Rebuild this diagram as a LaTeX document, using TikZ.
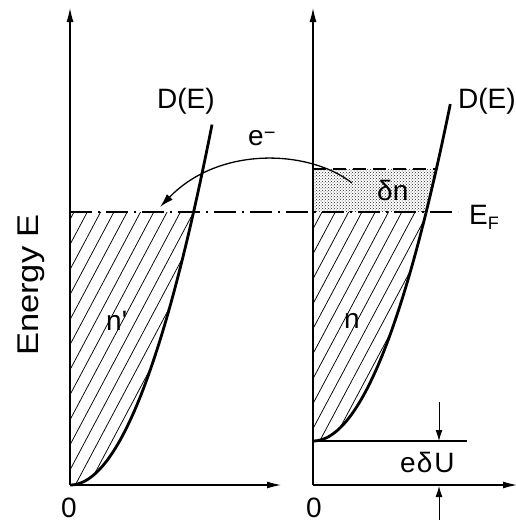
\documentclass[tikz,border=0pt]{standalone}
\usepackage{fontspec}
\setmainfont{Liberation Sans}
\usetikzlibrary{arrows.meta,patterns}
\begin{document}
\begin{tikzpicture}[x=1pt,y=-1pt,
  axis/.style={line width=1.1pt,-{Latex[length=14pt,width=7pt]}},
  dos/.style={line width=2.8pt},
  lbl/.style={font=\fontsize{28}{28}\selectfont, inner sep=0pt},
  hatchline/.style={line width=0.75pt},
  fermi/.style={line width=1.1pt,dash pattern=on 22pt off 6pt on 2pt off 6pt},
  dashedlvl/.style={line width=1.1pt,dash pattern=on 13pt off 7pt},
  smallarrow/.style={line width=0.9pt,-{Latex[length=11pt,width=7pt]}},
  elarrow/.style={line width=1.3pt,-{Latex[length=14pt,width=8pt]}}
]
\useasboundingbox (0,0) rectangle (515,522);

% coordinates
\coordinate (L0) at (70,485);
\coordinate (Ltop) at (70,8);
\coordinate (Lright) at (281,485);
\coordinate (R0) at (313,485);
\coordinate (Rtop) at (313,8);
\coordinate (Rright) at (517,485);
\coordinate (RB) at (313,441);
\coordinate (RBe) at (467,441);
\coordinate (FL) at (70,212);
\coordinate (FR) at (458,212);
\coordinate (DL) at (313,169);
\coordinate (DR) at (437,169);
\coordinate (Ua1) at (439,402);
\coordinate (Ua2) at (439,441);
\coordinate (Ub1) at (439,520);
\coordinate (Ub2) at (439,486);
\coordinate (Et) at (352,183);
\coordinate (Eh) at (160,207);

% hatching left
\begin{scope}
\clip (70,212) -- (70,485) -- plot[domain=0:123.6,samples=60] ({70+\x},{485-(\x/7.48)^2}) -- cycle;
\foreach \i in {-12,...,10} \draw[hatchline] ({75.3+\i*13.3},485) -- ++(145,-273);
\end{scope}

% hatching right
\begin{scope}
\clip (313,212) -- (313,441) -- plot[domain=0:113.2,samples=60] ({313+\x},{441-(\x/7.48)^2}) -- cycle;
\foreach \i in {-12,...,10} \draw[hatchline] ({322+\i*13.3-122},441) -- ++(122,-229);
\end{scope}

% dotted region
\fill[pattern=crosshatch dots, pattern color=black!85] (DL) -- (313,212) -- plot[domain=113.2:123.4,samples=10] ({313+\x},{441-(\x/7.48)^2}) -- cycle;

% axes
\draw[axis] (L0) -- (Ltop);
\draw[axis] (L0) -- (Lright);
\draw[axis] (R0) -- (Rtop);
\draw[axis] (R0) -- (Rright);

% levels
\draw[fermi] (FL) -- (FR);
\draw[dashedlvl] (DL) -- (DR);
\draw[line width=1.1pt] (RB) -- (RBe);
\draw[smallarrow] (Ua1) -- (Ua2);
\draw[smallarrow] (Ub1) -- (Ub2);

% D(E) curves
\draw[dos] plot[domain=0:142,samples=80] ({70+\x},{485-(\x/7.48)^2});
\draw[dos] plot[domain=0:137.3,samples=80] ({313+\x},{441-(\x/7.48)^2});

% electron arrow
\draw[elarrow] (Et) .. controls (310,150) and (220,145) .. (Eh);

% labels
\node[lbl,anchor=base west] (dl) at (157,108) {D(E)};
\node[lbl,anchor=base west] (dr) at (458,108) {D(E)};
\node[lbl,anchor=base west] (el) at (248,145) {e\raisebox{6pt}{\fontsize{20}{20}\selectfont −}};
\node[lbl,anchor=base west] (dn) at (377,200) {δn};
\node[lbl,anchor=base west] (ef) at (469,224) {E\raisebox{-5pt}{\fontsize{18}{18}\selectfont F}};
\node[lbl,anchor=base west] (np) at (106,330) {n\textquotesingle};
\node[lbl,anchor=base west] (nn) at (344,328) {n};
\node[lbl,anchor=base west] (du) at (400,472) {e\kern1pt δ\kern2pt U};
\node[lbl,anchor=base] (z1) at (69,517) {0};
\node[lbl,anchor=base] (z2) at (314,517) {0};
\node[lbl,anchor=base,rotate=90] (en) at (38,285) {\fontsize{30}{30}\selectfont\scalebox{1.15}[1]{Energy E}};
\end{tikzpicture}
\end{document}
